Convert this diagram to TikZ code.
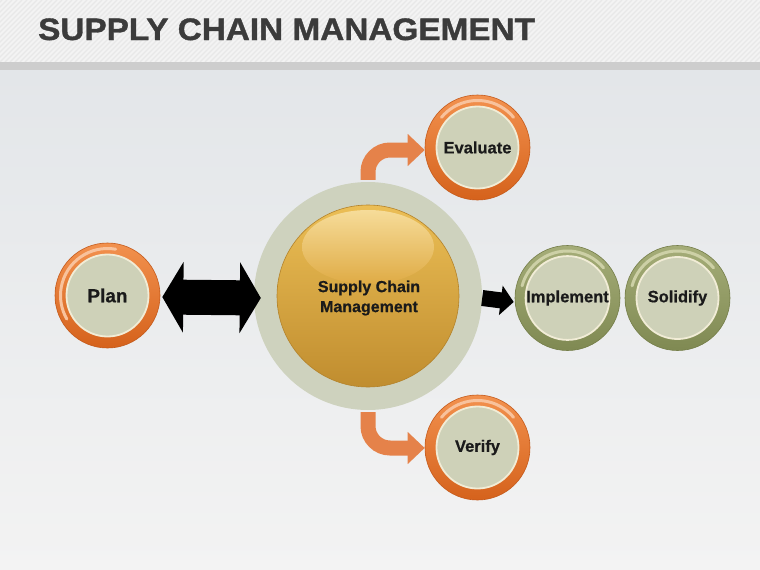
\documentclass[tikz,border=0pt]{standalone}
\usepackage{fontspec}
\setmainfont{Liberation Sans}
\newfontfamily\titlefont{Liberation Sans Bold}[FakeStretch=1.075, FakeBold=1.2]
\newfontfamily\lblfont{Liberation Sans Bold}[FakeBold=0.6]
\usetikzlibrary{arrows.meta}
\definecolor{hdr}{HTML}{F3F3F3}
\definecolor{stripe}{HTML}{E8E8E8}
\definecolor{band}{HTML}{CDCDCD}
\definecolor{bgtop}{HTML}{E3E6E9}
\definecolor{bgbot}{HTML}{F3F3F3}
\definecolor{titlec}{HTML}{3B3B3B}
\definecolor{oA}{HTML}{F2914E}
\definecolor{oB}{HTML}{D5621C}
\definecolor{oD}{HTML}{C4591A}
\definecolor{oHL}{HTML}{F8C29C}
\definecolor{gA}{HTML}{A5AD78}
\definecolor{gB}{HTML}{7F8952}
\definecolor{gD}{HTML}{747D48}
\definecolor{gHL}{HTML}{CDD0A6}
\definecolor{disc}{HTML}{CED1B8}
\definecolor{discedge}{HTML}{F1ECD6}
\definecolor{pale}{HTML}{CED2BE}
\definecolor{goldA}{HTML}{EBBE55}
\definecolor{goldB}{HTML}{C08D2F}
\definecolor{goldD}{HTML}{B3822A}
\definecolor{goldHL}{HTML}{F6DC99}
\definecolor{goldMid}{HTML}{DFAB45}
\definecolor{arrO}{HTML}{E5824A}
\definecolor{txt}{HTML}{1A1A1A}
\pgfdeclarelayer{bg}
\pgfdeclarelayer{arr}
\pgfsetlayers{bg,arr,main}
\tikzset{
  oring/.style={circle, minimum size=105pt, inner sep=0pt, top color=oA, bottom color=oB, draw=oD, line width=0.6pt},
  gring/.style={circle, minimum size=105pt, inner sep=0pt, top color=gA, bottom color=gB, draw=gD, line width=0.6pt},
  innerdisc/.style={circle, minimum size=82pt, inner sep=0pt, fill=disc, draw=discedge, line width=1.8pt, text=txt,
    font=\lblfont\fontsize{16.5}{19}\selectfont},
  ohl/.style={draw=oHL, line width=3pt, line cap=round},
  ghl/.style={draw=gHL, line width=3pt, line cap=round},
  blackarrow/.style={line width=35pt, draw=black},
  bentarrow/.style={draw=arrO, line width=15pt, rounded corners=22pt, -{Triangle[length=17pt,width=31pt]}},
}
\begin{document}
\begin{tikzpicture}[x=1pt,y=-1pt]
\useasboundingbox (0,0) rectangle (760,570);
\begin{pgfonlayer}{bg}
  \fill[hdr] (0,0) rectangle (760,62);
  \begin{scope}
    \clip (0,0) rectangle (760,62);
    \foreach \i in {-70,-65,...,760} \draw[stripe, line width=1.2pt] (\i,62) -- ++(62,-62);
  \end{scope}
  \fill[band] (0,62) rectangle (760,70);
  \shade[top color=bgtop, bottom color=bgbot] (0,70) rectangle (760,570);
\end{pgfonlayer}

\node[anchor=base west, text=titlec, inner sep=0pt, font=\titlefont\fontsize{31}{34}\selectfont] (title) at (38,40) {SUPPLY CHAIN MANAGEMENT};

% central circle
\node[circle, minimum size=228pt, inner sep=0pt, fill=pale] (scmo) at (368,296) {};
\node[circle, minimum size=182pt, inner sep=0pt, top color=goldA, bottom color=goldB, draw=goldD, line width=0.6pt] (scmg) at (368,296) {};
\shade[top color=goldHL, bottom color=goldMid] (368,247) ellipse (66pt and 37pt);
\node[align=center, text=txt, font=\lblfont\fontsize{16}{20}\selectfont] (scmt) at (369,298) {Supply Chain\\Management};

% Plan
\node[oring] (plan) at (107.5,295.5) {};
\draw[ohl] (plan) ++(-80:47) arc (-80:-210:47);
\node[innerdisc, font=\lblfont\fontsize{19}{22}\selectfont] (plant) at (plan) {Plan};

% Evaluate
\node[oring] (eval) at (477.5,147.5) {};
\draw[ohl] (eval) ++(-40:47) arc (-40:-140:47);
\node[innerdisc] (evalt) at (eval) {Evaluate};

% Verify
\node[oring] (ver) at (477.5,447.5) {};
\draw[ohl] (ver) ++(-40:47) arc (-40:-140:47);
\node[innerdisc] (vert) at (ver) {Verify};

% Implement
\node[gring] (impl) at (567.5,298) {};
\draw[ghl] (impl) ++(-40:47) arc (-40:-165:47);
\node[innerdisc] (implt) at (impl) {Implement};

% Solidify
\node[gring] (sol) at (677.5,298) {};
\draw[ghl] (sol) ++(-40:47) arc (-40:-165:47);
\node[innerdisc] (solt) at (sol) {Solidify};

% connectors
\begin{pgfonlayer}{arr}
  \draw[bentarrow] ([yshift=2pt]scmo.north) |- ([yshift=-2.5pt]eval.west);
  \draw[bentarrow] ([yshift=-2pt]scmo.south) |- ([yshift=-0.5pt]ver.west);
\end{pgfonlayer}
\draw[blackarrow, {Triangle[length=21pt,width=70pt]}-{Triangle[length=21pt,width=70pt]}]
  ([xshift=2pt,yshift=-1.5pt]plan.east) -- ([xshift=7pt,yshift=-2pt]scmo.west);
\draw[line width=16pt, -{Triangle[length=13pt,width=29pt]}]
  ([yshift=-2pt]scmo.east) -- ([xshift=-1pt,yshift=-4pt]impl.west);
\end{tikzpicture}
\end{document}
